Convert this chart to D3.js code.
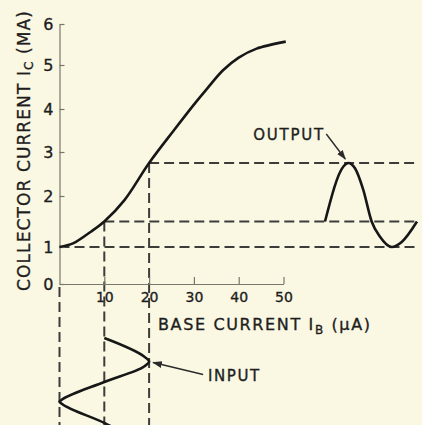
<!DOCTYPE html>
<html>
<head>
<meta charset="utf-8">
<script src="https://cdn.jsdelivr.net/npm/d3@7"></script>
<style>
  html, body { margin: 0; padding: 0; background: #faf8e3; }
  svg { display: block; }
  text { font-family: "DejaVu Sans", sans-serif; fill: #1e1e1e; stroke: #1e1e1e; stroke-width: 0.35px; }
</style>
</head>
<body>
<svg id="chart" width="422" height="425"></svg>
<script>
// Transfer characteristic: base current (µA) -> collector current (mA)
const baseCurrent      = [0, 3, 7, 10, 14.5, 20, 25.5, 30, 33, 36.5, 40, 44, 50.5];
const collectorCurrent = [1.0, 1.07, 1.3, 1.5, 1.92, 2.75, 3.5, 4.1, 4.47, 4.88, 5.18, 5.4, 5.57];

// Operating points that are projected onto the two waveforms
const opBase      = [0, 10, 20];
const opCollector = [1, 1.5, 2.75];

// Input swing: base current over one cycle (phase 0..1, runs downward)
const inputPhase = [0, 0.21, 0.27, 0.33, 0.505, 0.71, 0.732, 0.755, 0.976, 1.04];
const inputBase  = [10, 18.8, 20, 18.8, 10, 0.5, 0, 0.5, 10, 12.4];

// Output swing: collector current over one cycle (phase 0..1, runs rightward)
const outputPhase     = [0, 0.2, 0.253, 0.326, 0.416, 0.507, 0.598, 0.725, 0.834, 1];
const outputCollector = [1.5, 2.67, 2.75, 2.63, 2.14, 1.5, 1.2, 1.0, 1.1, 1.5];

const yTicks = [0, 1, 2, 3, 4, 5, 6];
const xTicks = [10, 20, 30, 40, 50];

const W = 422, H = 425;
const svg = d3.select("#chart");

// The hand-lettered axis has slightly uneven tick spacing
const y = d3.scaleLinear().domain(yTicks).range([284, 247, 196, 152, 109, 65, 24]);
const x = d3.scaleLinear().domain([0, 50]).range([59.5, 283.5]);
const tOut = d3.scaleLinear().domain([0, 1]).range([325, 417]);
const tIn  = d3.scaleLinear().domain([0, 1]).range([338, 425]);

const ink = "#171717", dashInk = "#3c3c3a";

// Projection lines from the operating points
const ops = opBase.map((b, i) => ({ b, c: opCollector[i] }));
const proj = svg.append("g")
  .attr("stroke", dashInk).attr("stroke-width", 2)
  .attr("stroke-dasharray", "10,5").attr("fill", "none");
proj.selectAll("line.h").data(ops).join("line").attr("class", "h")
  .attr("x1", d => x(d.b)).attr("x2", tOut.range()[1] + 1)
  .attr("y1", d => y(d.c)).attr("y2", d => y(d.c));
proj.selectAll("line.v").data(ops).join("line").attr("class", "v")
  .attr("x1", d => x(d.b)).attr("x2", d => x(d.b))
  .attr("y1", d => d.b === 0 ? y(0) + 3 : y(d.c)).attr("y2", H);

// Axes
const yAxis = d3.axisLeft(y).tickValues(yTicks).tickFormat(d3.format("d"))
  .tickSize(-5).tickSizeOuter(0).tickPadding(6);
const xAxis = d3.axisBottom(x).tickValues(xTicks).tickFormat(d3.format("d"))
  .tickSize(-7).tickSizeOuter(0).tickPadding(8);

const gy = svg.append("g").attr("transform", `translate(${x(0)},0)`).call(yAxis);
const gx = svg.append("g").attr("transform", `translate(0,${y(0)})`).call(xAxis);
[gy, gx].forEach(g => {
  g.selectAll("path.domain, line").attr("stroke", "#77776c").attr("stroke-width", 1.2);
  g.selectAll("text").attr("fill", "#1e1e1e").style("font-family", '"DejaVu Sans", sans-serif');
});
gy.selectAll("text").attr("font-size", 16);
gx.selectAll("text").attr("font-size", 14);

// Transfer curve
svg.append("path")
  .datum(baseCurrent.map((b, i) => [b, collectorCurrent[i]]))
  .attr("fill", "none").attr("stroke", ink).attr("stroke-width", 2.6)
  .attr("d", d3.line().x(d => x(d[0])).y(d => y(d[1])).curve(d3.curveCatmullRom.alpha(0.5)));

// Input waveform (base current against downward time)
svg.append("path")
  .datum(inputPhase.map((t, i) => [inputBase[i], t]))
  .attr("fill", "none").attr("stroke", ink).attr("stroke-width", 2.6)
  .attr("d", d3.line().x(d => x(d[0])).y(d => tIn(d[1])).curve(d3.curveMonotoneY));

// Output waveform (collector current against rightward time)
svg.append("path")
  .datum(outputPhase.map((t, i) => [t, outputCollector[i]]))
  .attr("fill", "none").attr("stroke", ink).attr("stroke-width", 2.6)
  .attr("d", d3.line().x(d => tOut(d[0])).y(d => y(d[1])).curve(d3.curveMonotoneX));

// Arrowheads
svg.append("defs").append("marker")
  .attr("id", "head").attr("viewBox", "0 0 10 10")
  .attr("refX", 9).attr("refY", 5)
  .attr("markerWidth", 7).attr("markerHeight", 7)
  .attr("orient", "auto")
  .append("path").attr("d", "M0,1.5 L10,5 L0,8.5 Z").attr("fill", "#2a2a2a");

// Output annotation
const outPeak = [tOut(outputPhase[2]), y(outputCollector[2])];
const outStart = [outPeak[0] - 22, outPeak[1] - 29];
svg.append("line")
  .attr("x1", outStart[0]).attr("y1", outStart[1])
  .attr("x2", outPeak[0] - 3).attr("y2", outPeak[1] - 4)
  .attr("stroke", "#2a2a2a").attr("stroke-width", 1.4).attr("marker-end", "url(#head)");
svg.append("text")
  .attr("x", outStart[0] - 3).attr("y", outStart[1] + 5.5)
  .attr("text-anchor", "end").attr("font-size", 15)
  .attr("textLength", 70).attr("lengthAdjust", "spacing")
  .text("OUTPUT");

// Input annotation
const inPeak = [x(inputBase[2]), tIn(inputPhase[2])];
const inStart = [inPeak[0] + 54, inPeak[1] + 13];
svg.append("line")
  .attr("x1", inStart[0]).attr("y1", inStart[1])
  .attr("x2", inPeak[0] + 4).attr("y2", inPeak[1] + 1)
  .attr("stroke", "#2a2a2a").attr("stroke-width", 1.4).attr("marker-end", "url(#head)");
svg.append("text")
  .attr("x", inStart[0] + 5).attr("y", inStart[1] + 7)
  .attr("font-size", 15)
  .attr("textLength", 51).attr("lengthAdjust", "spacing")
  .text("INPUT");

// Axis titles
const xt = svg.append("text")
  .attr("x", 158).attr("y", 330).attr("font-size", 16)
  .attr("textLength", 212).attr("lengthAdjust", "spacing");
xt.append("tspan").text("BASE CURRENT I");
xt.append("tspan").attr("font-size", 12).attr("dy", 4).text("B");
xt.append("tspan").attr("dy", -4).text(" (\u03BCA)");

const yt = svg.append("text")
  .attr("transform", "translate(30,151) rotate(-90)")
  .attr("text-anchor", "middle").attr("font-size", 17)
  .attr("textLength", 280).attr("lengthAdjust", "spacing");
yt.append("tspan").text("COLLECTOR CURRENT I");
yt.append("tspan").attr("font-size", 12).attr("dy", 3).text("C");
yt.append("tspan").attr("dy", -3).text(" (MA)");
</script>
</body>
</html>
